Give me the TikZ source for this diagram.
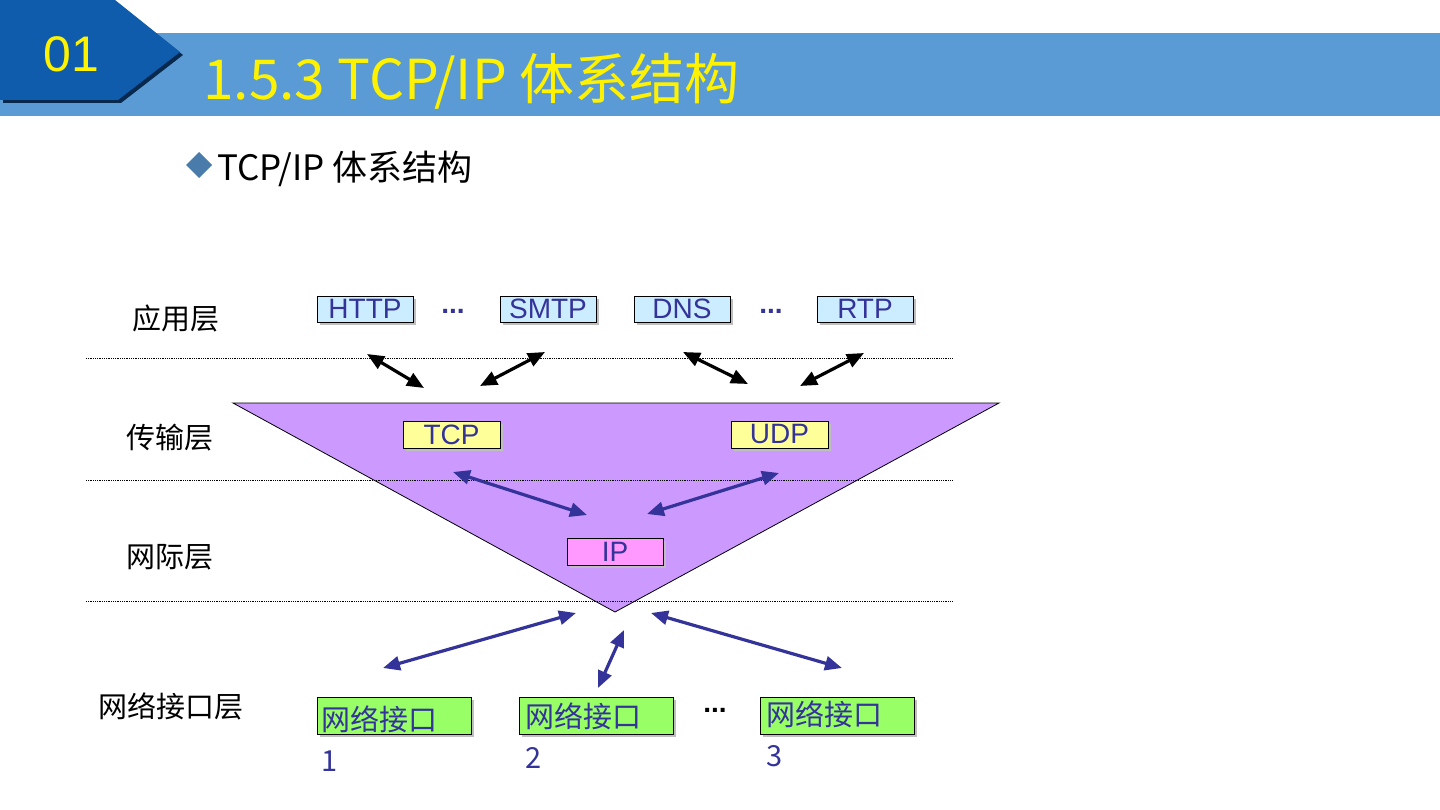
\documentclass[tikz,border=0pt]{standalone}
\usepackage{fontspec}
\setmainfont{Liberation Sans}
\newfontfamily\cjk{Noto Sans CJK SC}
\usetikzlibrary{arrows.meta,shadows}

\definecolor{tabblue}{RGB}{16,92,172}
\definecolor{barblue}{RGB}{91,155,213}
\definecolor{navy}{RGB}{51,51,153}
\definecolor{appfill}{RGB}{204,236,255}
\definecolor{tcpfill}{RGB}{255,255,153}
\definecolor{ipfill}{RGB}{255,153,255}
\definecolor{trifill}{RGB}{204,153,255}
\definecolor{nifill}{RGB}{153,255,102}

\tikzset{
  proto/.style={draw=black, line width=0.8pt, inner sep=0pt,
    minimum width=96pt, minimum height=26pt, text=navy,
    font=\fontsize{28}{28}\selectfont,
    drop shadow={shadow xshift=3pt, shadow yshift=-3pt, fill=black!25, opacity=1}},
  ifbox/.style={proto, minimum width=154pt, minimum height=37pt, fill=nifill},
  iflabel/.style={anchor=north west, inner sep=0pt, align=left, text=navy,
    font=\cjk\fontsize{29}{41}\selectfont},
  layer/.style={font=\cjk\fontsize{29}{29}\selectfont},
  sep/.style={densely dotted, line width=0.8pt},
  dots/.style={font=\bfseries\fontsize{28}{28}\selectfont},
  applink/.style={line width=3.2pt, {Triangle[length=17pt,width=14pt]}-{Triangle[length=17pt,width=14pt]}},
  netlink/.style={applink, draw=navy},
}

\begin{document}
\begin{tikzpicture}[x=1pt, y=-1pt]
  \useasboundingbox (0,0) rectangle (1440,810);

  % header
  \fill[barblue] (0,33) rectangle (1440,116);
  \fill[black!55!tabblue] (3,3) -- (118,3) -- (183,55) -- (121,103) -- (3,103) -- cycle;
  \fill[tabblue] (0,0) -- (115,0) -- (180,52) -- (118,100) -- (0,100) -- cycle;
  \node[anchor=base west, inner sep=0pt, text=yellow, font=\fontsize{50}{50}\selectfont] (num) at (43,72) {01};
  \node[anchor=base west, inner sep=0pt, text=yellow, font=\cjk\fontsize{55}{55}\selectfont] (title) at (203,100) {1.5.3 TCP/IP 体系结构};

  \fill[barblue!80!black] (199,152) -- (212,165) -- (199,178) -- (186,165) -- cycle;
  \node[anchor=base west, inner sep=0pt, font=\cjk\fontsize{35}{35}\selectfont] (sub) at (217,181) {TCP/IP 体系结构};

  % triangle and layer separators
  \coordinate (tl) at (233,403);
  \coordinate (tr) at (999,403);
  \coordinate (tb) at (615,612);
  \filldraw[fill=trifill, draw=black, line width=0.8pt] (tl) -- (tr) -- (tb) -- cycle;
  \foreach \y in {358,480,601}
    \draw[sep] (86,\y) -- (952,\y);

  \node[layer] (app) at (176,318) {应用层};
  \node[layer] (trans) at (170,438) {传输层};
  \node[layer] (inet) at (170,557) {网际层};
  \node[layer] (netif) at (171,706) {网络接口层};

  % application protocols
  \node[proto, fill=appfill] (http) at (365,309) {HTTP};
  \node[proto, fill=appfill] (smtp) at (548,309) {SMTP};
  \node[proto, fill=appfill] (dns) at (682,309) {DNS};
  \node[proto, fill=appfill] (rtp) at (865,309) {RTP};
  \node[dots, text=navy] (d1) at (453,311) {...};
  \node[dots, text=navy] (d2) at (771,311) {...};

  % transport and internet
  \node[proto, fill=tcpfill, minimum width=97pt, minimum height=27pt] (tcp) at (451.5,434.5) {TCP};
  \node[proto, fill=tcpfill, minimum width=97pt, minimum height=27pt] (udp) at (779.5,434.5) {UDP};
  \node[proto, fill=ipfill, minimum height=27pt] (ip) at (615,551.5) {IP};

  % network interfaces
  \node[ifbox] (if1) at (394,715.5) {};
  \node[ifbox] (if2) at (596,715.5) {};
  \node[ifbox] (if3) at (837,715.5) {};
  \node[iflabel] (l1) at (321,706) {网络接口\\1};
  \node[iflabel] (l2) at (525,703) {网络接口\\2};
  \node[iflabel] (l3) at (766,701) {网络接口\\3};
  \node[dots] (d3) at (715,710) {...};

  % arrows
  \coordinate (a1) at (367,354); \coordinate (b1) at (424,388);
  \coordinate (a2) at (545,352); \coordinate (b2) at (480,386);
  \coordinate (a3) at (683,352); \coordinate (b3) at (748,384);
  \coordinate (a4) at (864,353); \coordinate (b4) at (800,386);
  \draw[applink] (a1) -- (b1);
  \draw[applink] (a2) -- (b2);
  \draw[applink] (a3) -- (b3);
  \draw[applink] (a4) -- (b4);

  \coordinate (c1) at (453,472); \coordinate (e1) at (587,515);
  \coordinate (c2) at (779,473); \coordinate (e2) at (647,514);
  \draw[netlink] (c1) -- (e1);
  \draw[netlink] (c2) -- (e2);

  \coordinate (f1) at (576,613); \coordinate (g1) at (383,668);
  \coordinate (f2) at (624,630); \coordinate (g2) at (598,688);
  \coordinate (f3) at (651,613); \coordinate (g3) at (842,668);
  \draw[netlink] (f1) -- (g1);
  \draw[netlink] (f2) -- (g2);
  \draw[netlink] (f3) -- (g3);
\end{tikzpicture}
\end{document}
